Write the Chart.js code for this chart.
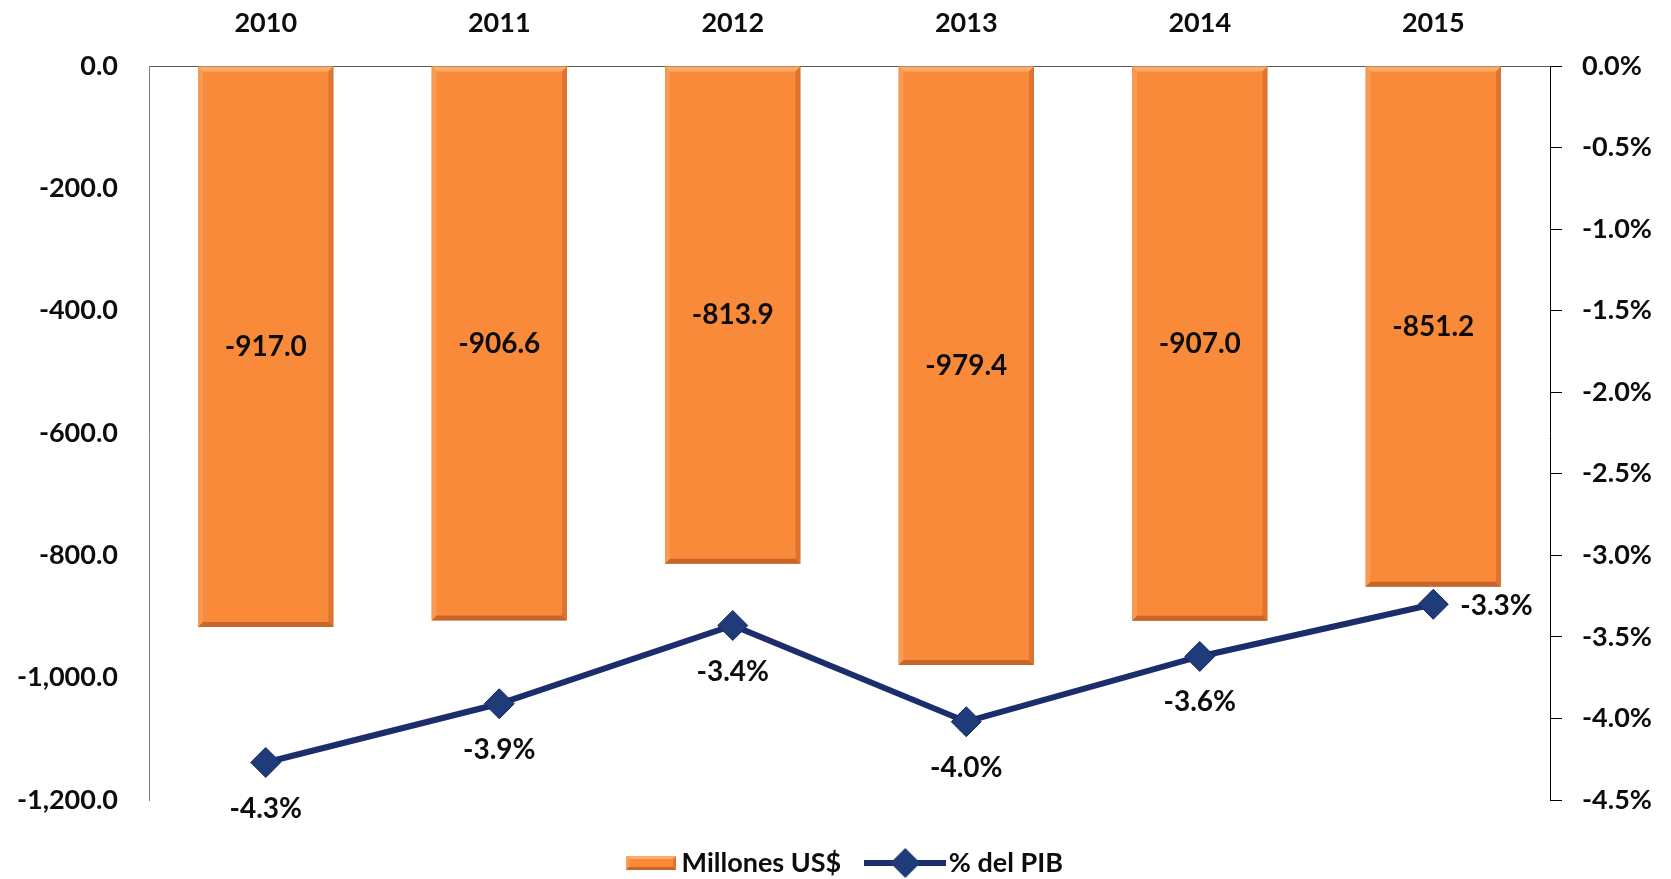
<!DOCTYPE html>
<html lang="es">
<head>
    <meta charset="UTF-8">
    <title>Millones US$ y % del PIB</title>
    <script src="https://cdn.jsdelivr.net/npm/chart.js"></script>
    <style>
        html, body { margin: 0; padding: 0; background: #fff; }
        .contenedor { position: relative; width: 1671px; height: 879px; }
    </style>
</head>
<body>
    <div class="contenedor">
        <canvas id="grafico"></canvas>
    </div>

    <script>
        // Datos
        const anios = ['2010', '2011', '2012', '2013', '2014', '2015'];
        const millones = [-917.0, -906.6, -813.9, -979.4, -907.0, -851.2];
        const pctPib = [-4.27, -3.91, -3.43, -4.02, -3.62, -3.30];
        const ticksMillones = [-1200, -1000, -800, -600, -400, -200, 0];
        const ticksPct = [-4.5, -4.0, -3.5, -3.0, -2.5, -2.0, -1.5, -1.0, -0.5, 0];

        const naranja = '#f98a3a';
        const azul = '#1b2d6b';
        const texto = '#0d0d0d';

        Chart.defaults.font.family = 'Lato';
        Chart.defaults.font.weight = 'bold';
        Chart.defaults.color = texto;

        function poligono(ctx, pts, color) {
            ctx.beginPath();
            ctx.moveTo(pts[0][0], pts[0][1]);
            for (let i = 1; i < pts.length; i++) ctx.lineTo(pts[i][0], pts[i][1]);
            ctx.closePath();
            ctx.fillStyle = color;
            ctx.fill();
        }

        // bisel estilo Excel sobre un rectángulo
        function biselar(ctx, l, t, r, b, e) {
            poligono(ctx, [[l, t], [r, t], [r - e, t + e], [l + e, t + e]], '#fcac68');
            poligono(ctx, [[l, t], [l, b], [l + e, b - e], [l + e, t + e]], '#f99a52');
            poligono(ctx, [[r, t], [r, b], [r - e, b - e], [r - e, t + e]], '#de742f');
            poligono(ctx, [[l, b], [r, b], [r - e, b - e], [l + e, b - e]], '#c8662a');
        }

        function iconoBarra() {
            const c = document.createElement('canvas');
            c.width = 76; c.height = 16;
            const g = c.getContext('2d');
            g.fillStyle = naranja;
            g.fillRect(26, 1, 50, 14);
            biselar(g, 26, 1, 76, 15, 3);
            return c;
        }

        function iconoLinea() {
            const c = document.createElement('canvas');
            c.width = 82; c.height = 34;
            const g = c.getContext('2d');
            g.strokeStyle = azul;
            g.lineWidth = 6;
            g.beginPath();
            g.moveTo(0, 17); g.lineTo(82, 17);
            g.stroke();
            poligono(g, [[41, 2], [56, 17], [41, 32], [26, 17]], '#1f3b7a');
            return c;
        }

        const iconos = [iconoBarra(), iconoLinea()];

        const bisel = {
            id: 'bisel',
            afterDatasetDraw(chart, args) {
                if (args.index !== 0) return;
                const ctx = chart.ctx;
                ctx.save();
                args.meta.data.forEach(bar => {
                    const p = bar.getProps(['x', 'y', 'base', 'width'], true);
                    const l = p.x - p.width / 2, r = p.x + p.width / 2;
                    const t = Math.min(p.y, p.base), b = Math.max(p.y, p.base);
                    biselar(ctx, l, t, r, b, 5);
                });
                ctx.restore();
            }
        };

        const etiquetas = {
            id: 'etiquetas',
            afterDatasetsDraw(chart) {
                const ctx = chart.ctx;
                ctx.save();
                ctx.font = 'bold 28px Lato';
                ctx.fillStyle = texto;
                ctx.textBaseline = 'middle';
                ctx.textAlign = 'center';
                chart.getDatasetMeta(0).data.forEach((bar, i) => {
                    ctx.fillText(millones[i].toFixed(1), bar.x, (bar.y + bar.base) / 2);
                });
                chart.getDatasetMeta(1).data.forEach((pt, i) => {
                    const txt = pctPib[i].toFixed(1) + '%';
                    if (i === pctPib.length - 1) {
                        ctx.textAlign = 'left';
                        ctx.fillText(txt, pt.x + 27, pt.y + 2);
                    } else {
                        ctx.textAlign = 'center';
                        ctx.fillText(txt, pt.x, pt.y + 46);
                    }
                });
                ctx.restore();
            }
        };

        const ctx = document.getElementById('grafico').getContext('2d');
        new Chart(ctx, {
            data: {
                labels: anios,
                datasets: [{
                    type: 'bar',
                    label: 'Millones US$',
                    data: millones,
                    yAxisID: 'y',
                    backgroundColor: naranja,
                    borderColor: '#c96a2c',
                    borderWidth: 1,
                    barPercentage: 0.58,
                    categoryPercentage: 1,
                    order: 1
                }, {
                    type: 'line',
                    label: '% del PIB',
                    data: pctPib,
                    yAxisID: 'y2',
                    borderColor: azul,
                    borderWidth: 6,
                    pointStyle: 'rectRot',
                    pointRadius: 15,
                    pointHoverRadius: 15,
                    pointBackgroundColor: '#1f3b7a',
                    pointBorderColor: '#152a5e',
                    pointBorderWidth: 1,
                    tension: 0,
                    order: 0
                }]
            },
            options: {
                responsive: true,
                maintainAspectRatio: false,
                animation: false,
                layout: { padding: { top: 0, left: 0, right: 0, bottom: -7.5 } },
                plugins: {
                    tooltip: { enabled: false },
                    legend: {
                        position: 'bottom',
                        title: { display: true, text: '', font: { size: 10 }, padding: { top: 0, bottom: 3.5 } },
                        labels: {
                            usePointStyle: true,
                            pointStyleWidth: 60,
                            padding: 34,
                            color: texto,
                            font: { size: 27, weight: 'bold' },
                            sort: (a, b) => a.datasetIndex - b.datasetIndex,
                            generateLabels: chart =>
                                Chart.defaults.plugins.legend.labels.generateLabels(chart)
                                    .map(it => ({ ...it, pointStyle: iconos[it.datasetIndex] }))
                        }
                    }
                },
                scales: {
                    x: {
                        position: 'top',
                        offset: true,
                        grid: { display: true, drawOnChartArea: false, drawTicks: false },
                        border: { display: true, color: '#595959', width: 1 },
                        ticks: { padding: 27, color: texto, font: { size: 27, weight: 'bold' } },
                        afterFit: s => { s.height = 66; }
                    },
                    y: {
                        position: 'left',
                        min: -1200,
                        max: 0,
                        grid: { display: true, drawOnChartArea: false, drawTicks: false },
                        border: { display: true, color: '#808080', width: 1 },
                        afterBuildTicks: s => { s.ticks = ticksMillones.map(v => ({ value: v })); },
                        ticks: {
                            padding: 31,
                            color: texto,
                            font: { size: 27, weight: 'bold' },
                            callback: v => v.toLocaleString('en-US', { minimumFractionDigits: 1, maximumFractionDigits: 1 })
                        },
                        afterFit: s => { s.width = 149; }
                    },
                    y2: {
                        position: 'right',
                        min: -4.5,
                        max: 0,
                        grid: { display: true, drawOnChartArea: false, drawTicks: true, tickLength: 12, color: '#000', lineWidth: 1 },
                        border: { display: true, color: '#000', width: 1 },
                        afterBuildTicks: s => { s.ticks = ticksPct.map(v => ({ value: v })); },
                        ticks: {
                            padding: 20,
                            color: texto,
                            font: { size: 27, weight: 'bold' },
                            callback: v => v.toFixed(1) + '%'
                        },
                        afterFit: s => { s.width = 121; }
                    }
                }
            },
            plugins: [bisel, etiquetas]
        });
    </script>
</body>
</html>
